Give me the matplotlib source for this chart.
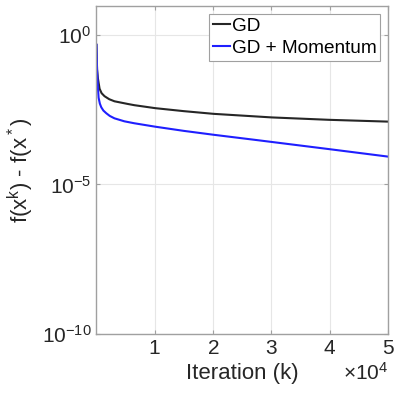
import matplotlib
matplotlib.use("Agg")
import matplotlib.pyplot as plt
import matplotlib.ticker as mticker
import numpy as np

plt.rcParams['font.family'] = ['Liberation Sans', 'DejaVu Sans']
plt.rcParams['mathtext.fontset'] = 'custom'
plt.rcParams['mathtext.rm'] = 'Liberation Sans'
plt.rcParams['mathtext.it'] = 'Liberation Sans'

# iteration numbers and log10 of the gap
iters_gd = [15, 120, 260, 550, 900, 1400, 2200, 3100, 5400, 6500, 10100, 15000, 20100, 30100, 39900, 50000]
log_gd = [-0.33, -1.15, -1.45, -1.80, -1.95, -2.05, -2.15, -2.22, -2.31, -2.35, -2.45, -2.55, -2.64, -2.76, -2.84, -2.90]

iters_mom = [15, 120, 260, 380, 600, 840, 1200, 1700, 2300, 3100, 4800, 6500, 10100, 15000, 20100, 27600, 39900, 50000]
log_mom = [-0.33, -1.20, -1.75, -2.10, -2.30, -2.42, -2.53, -2.62, -2.71, -2.79, -2.89, -2.955, -3.07, -3.21, -3.34, -3.52, -3.82, -4.07]

gd = 10.0 ** np.array(log_gd)
mom = 10.0 ** np.array(log_mom)

fig = plt.figure(figsize=(3.95, 3.96), dpi=100)
ax = fig.add_axes([0.244, 0.157, 0.738, 0.828])

ax.plot(iters_gd, gd, color='#262626', lw=1.5, label='GD')
ax.plot(iters_mom, mom, color='#1f1fff', lw=1.5, label='GD + Momentum')

ax.set_yscale('log')
ax.set_xlim(1, 5e4)
ax.set_ylim(1e-10, 10 ** 0.97)
ax.set_yticks([1e-10, 1e-5, 1e0])
ax.yaxis.set_minor_locator(mticker.NullLocator())
ax.set_yticklabels([r'$10^{-10}$', r'$10^{-5}$', r'$10^{0}$'])
ax.set_xticks([1e4, 2e4, 3e4, 4e4, 5e4])
fmt = mticker.ScalarFormatter(useMathText=True)
fmt.set_powerlimits((0, 0))
ax.xaxis.set_major_formatter(fmt)
ax.xaxis.get_offset_text().set_fontsize(15)
ax.xaxis.get_offset_text().set_color('#262626')

ax.grid(True, color='#e6e6e6', lw=0.8)
ax.set_axisbelow(True)
for s in ax.spines.values():
    s.set_color('#a0a0a0')
    s.set_linewidth(1.0)
ax.tick_params(direction='in', length=3, colors='#a0a0a0', labelcolor='#262626',
               labelsize=15, top=True, right=True)

ax.set_xlabel('Iteration (k)', fontsize=16, color='#262626')
ax.set_ylabel(r'f(x$^{\rm k}$) - f(x$^*$)', fontsize=16, color='#262626')

leg = ax.legend(loc='upper right', fontsize=13.7, handlelength=0.9, handletextpad=0.1,
                borderpad=0.2, labelspacing=0.25, fancybox=False, framealpha=1,
                borderaxespad=0.4)
leg.get_frame().set_edgecolor('#a0a0a0')
leg.get_frame().set_linewidth(0.8)

fig.savefig('out.png', dpi=100)
